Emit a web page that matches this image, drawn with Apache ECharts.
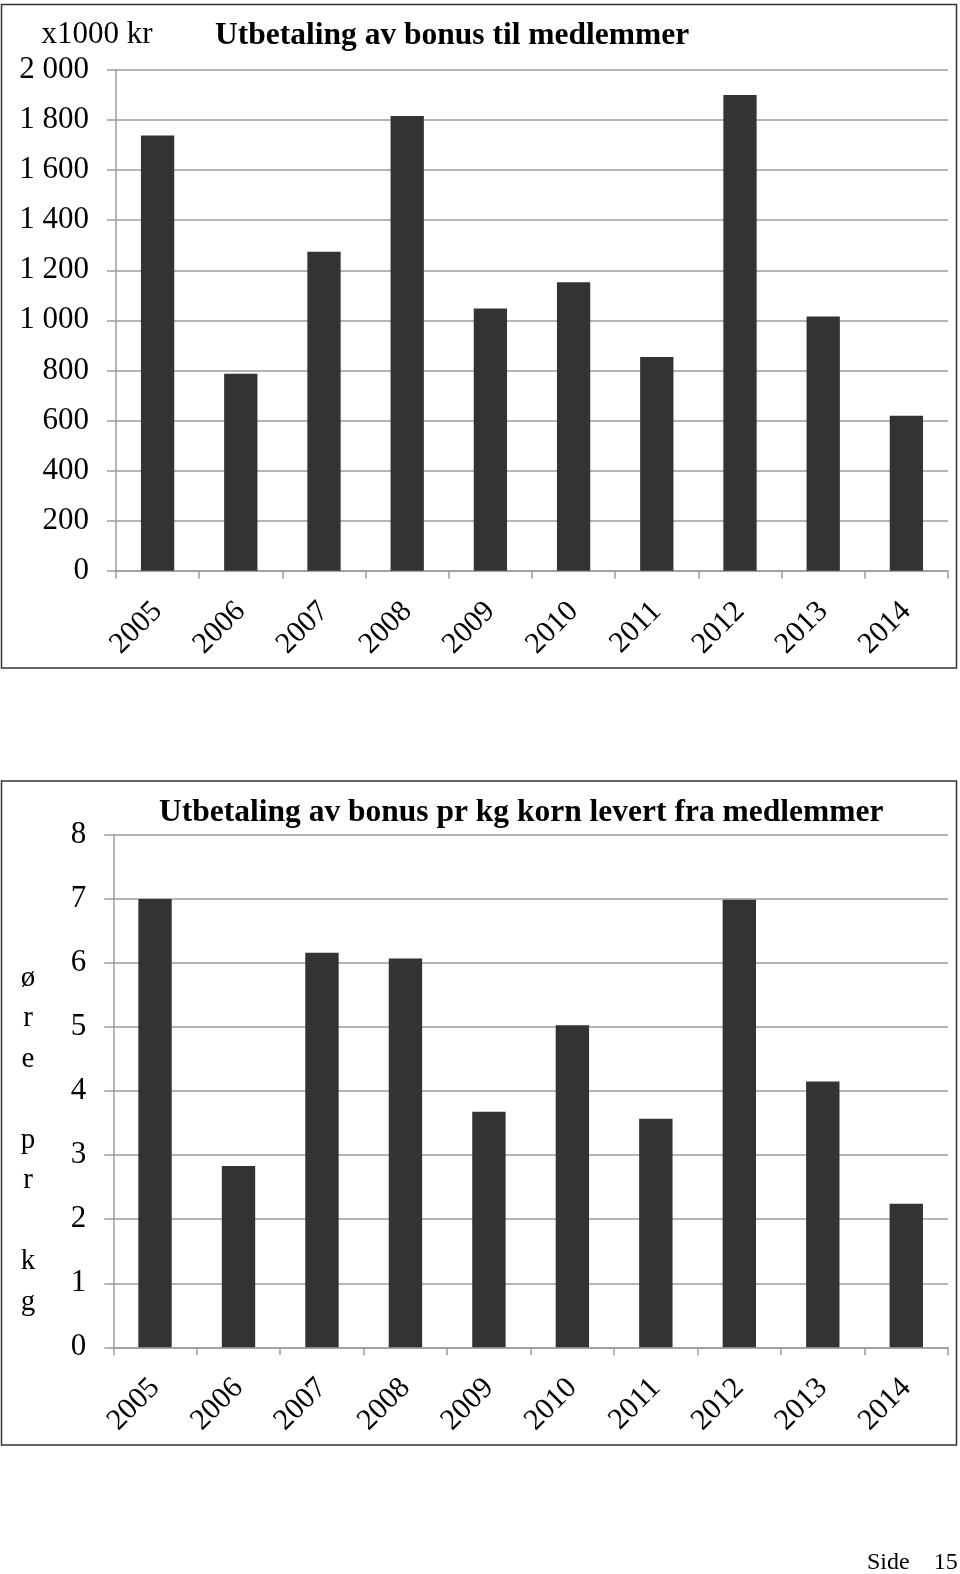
<!DOCTYPE html>
<html><head><meta charset="utf-8">
<script src="https://cdn.jsdelivr.net/npm/echarts@6/dist/echarts.min.js"></script>
<style>html,body{margin:0;padding:0;background:#fff}#c{width:960px;height:1574px}</style>
</head><body><div id="c"></div>
<script>
const years = ['2005','2006','2007','2008','2009','2010','2011','2012','2013','2014'];
const bonusTotal = [1738, 787, 1274, 1816, 1047, 1152, 854, 1900, 1015, 619];
const bonusPerKg = [7.0, 2.83, 6.16, 6.07, 3.68, 5.03, 3.57, 6.99, 4.15, 2.24];
const topTicks = [0, 200, 400, 600, 800, 1000, 1200, 1400, 1600, 1800, 2000];
const bottomTicks = [0, 1, 2, 3, 4, 5, 6, 7, 8];
const titleTop = 'Utbetaling av bonus til medlemmer';
const titleBottom = 'Utbetaling av bonus pr kg korn levert fra medlemmer';
const unitTop = 'x1000 kr';
const unitBottom = 'ø\nr\ne\n \np\nr\n \nk\ng';
const pageLabel = 'Side    15';

const FONT = '"Liberation Serif", "Times New Roman", serif';
const GRAY = '#9c9c9c';
const chart = echarts.init(document.getElementById('c'), null, {renderer: 'canvas'});

function fmtThousands(v) {
  return String(v).replace(/\B(?=(\d{3})+(?!\d))/g, ' ');
}

function yAxisCfg(idx, ticks, extra) {
  return Object.assign({
    type: 'value', gridIndex: idx,
    min: ticks[0], max: ticks[ticks.length - 1], interval: ticks[1] - ticks[0],
    axisLine: {show: true, lineStyle: {color: GRAY, width: 1.5}},
    axisTick: {show: true, length: 9, lineStyle: {color: GRAY, width: 1.5}},
    splitLine: {show: true, lineStyle: {color: GRAY, width: 1.5}},
    axisLabel: {color: '#000', fontFamily: FONT, fontSize: 31, margin: 27}
  }, extra);
}
function xAxisCfg(idx) {
  return {
    type: 'category', gridIndex: idx, data: years,
    axisLine: {show: true, lineStyle: {color: GRAY, width: 1.5}},
    axisTick: {show: true, length: 8, alignWithLabel: false, lineStyle: {color: GRAY, width: 1.5}},
    axisLabel: {color: '#000', fontFamily: FONT, fontSize: 30, rotate: 45, margin: 36, interval: 0}
  };
}

chart.setOption({
  animation: false,
  backgroundColor: '#fff',
  title: [
    {text: titleTop, left: 210, top: 15, textStyle: {fontFamily: FONT, fontSize: 31.5, fontWeight: 'bold', color: '#000'}},
    {text: titleBottom, left: 154, top: 792, textStyle: {fontFamily: FONT, fontSize: 31.5, fontWeight: 'bold', color: '#000'}},
    {text: pageLabel, left: 862, top: 1546, textStyle: {fontFamily: FONT, fontSize: 24, fontWeight: 'normal', color: '#000'}}
  ],
  grid: [
    {left: 116, right: 12, top: 70, height: 500.7},
    {left: 113.3, right: 12, top: 835, height: 512.3}
  ],
  xAxis: [xAxisCfg(0), xAxisCfg(1)],
  yAxis: [
    yAxisCfg(0, topTicks, {
      name: unitTop, nameLocation: 'end', nameGap: 20,
      axisLabel: {color: '#000', fontFamily: FONT, fontSize: 31, margin: 27, formatter: fmtThousands},
      nameTextStyle: {color: '#000', fontFamily: FONT, fontSize: 31, align: 'center', padding: [0, 38, 0, 0]}
    }),
    yAxisCfg(1, bottomTicks, {})
  ],
  series: [
    {type: 'bar', xAxisIndex: 0, yAxisIndex: 0, data: bonusTotal, barWidth: '40%', itemStyle: {color: '#333333'}},
    {type: 'bar', xAxisIndex: 1, yAxisIndex: 1, data: bonusPerKg, barWidth: '40%', itemStyle: {color: '#333333'}}
  ],
  graphic: [
    {type: 'text', silent: true, x: 28, y: 1140,
      style: {text: unitBottom, fill: '#000', font: '29px ' + FONT, lineHeight: 40.5, align: 'center', verticalAlign: 'middle'}},
    {type: 'rect', silent: true, z: 100, shape: {x: 1.5, y: 4.5, width: 955, height: 663.5}, style: {fill: null, stroke: '#333', lineWidth: 1.5}},
    {type: 'rect', silent: true, z: 100, shape: {x: 1.5, y: 781, width: 955, height: 664}, style: {fill: null, stroke: '#333', lineWidth: 1.5}}
  ]
});
</script></body></html>
